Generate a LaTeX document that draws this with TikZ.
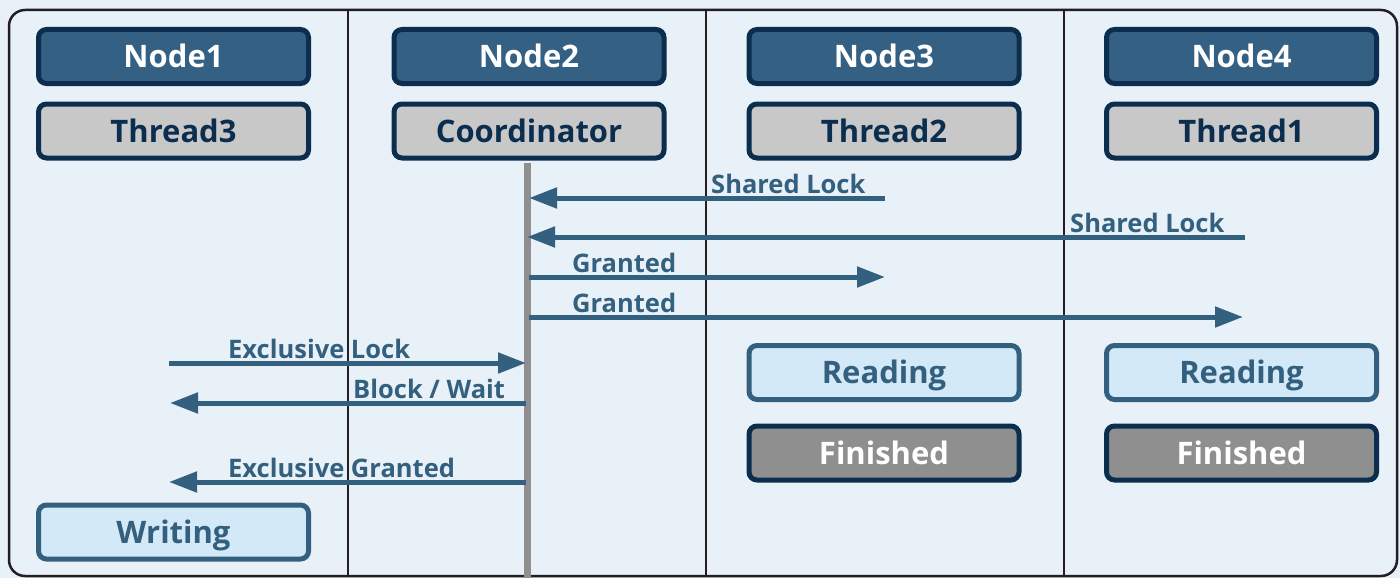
\documentclass[tikz,border=0pt]{standalone}
\usepackage{fontspec}
\setmainfont{Open Sans}
\usetikzlibrary{arrows.meta}
\definecolor{bg}{HTML}{E8F0F8}
\definecolor{navy}{HTML}{0B2E4F}
\definecolor{hdr}{HTML}{346083}
\definecolor{thr}{HTML}{C8C8C8}
\definecolor{lightb}{HTML}{D4E9F7}
\definecolor{arr}{HTML}{34607F}
\definecolor{gry}{HTML}{8F8F8F}
\definecolor{framec}{HTML}{231F20}
\tikzset{
  box/.style={rounded corners=8pt, line width=5pt, minimum width=270pt, minimum height=54pt, inner sep=0pt, text height=22pt, text depth=0pt, font=\fontsize{31}{38}\selectfont\bfseries},
  hdrbox/.style={box, draw=navy, fill=hdr, text=white},
  thrbox/.style={box, draw=navy, fill=thr, text=navy},
  statebox/.style={box, draw=arr, fill=lightb, text=arr},
  finbox/.style={box, draw=navy, fill=gry, text=white},
  msg/.style={draw=arr, line width=5pt, -{Triangle[length=28pt,width=20pt]}},
  msglabel/.style={anchor=base west, inner sep=0pt, text=arr, font=\fontsize{25.5}{30}\selectfont\bfseries},
  divider/.style={draw=framec, line width=2pt}
}
\begin{document}
\begin{tikzpicture}[x=1pt,y=-1pt]
\fill[bg] (0,0) rectangle (1400,578);
\useasboundingbox (0,0) rectangle (1400,578);
\draw[framec, line width=2.5pt, rounded corners=16pt] (9,10) rectangle (1397,576);
\foreach \x in {348,706,1064} \draw[divider] (\x,10) -- (\x,576);

\node[hdrbox] (n1) at (173.5,56.5) {Node1};
\node[hdrbox] (n2) at (529,56.5) {Node2};
\node[hdrbox] (n3) at (884,56.5) {Node3};
\node[hdrbox] (n4) at (1241.5,56.5) {Node4};
\node[thrbox] (t3) at (173.5,131) {Thread3};
\node[thrbox] (co) at (529,131) {Coordinator};
\node[thrbox] (t2) at (884,131) {Thread2};
\node[thrbox] (t1) at (1241.5,131) {Thread1};

\coordinate (lifetop) at (527,163);
\coordinate (lifeend) at (527,578);
\draw[gry, line width=7pt] (lifetop) -- (lifeend);

\node[statebox] (r3) at (884,372.5) {Reading};
\node[statebox] (r4) at (1241.5,372.5) {Reading};
\node[finbox] (f3) at (884,453) {Finished};
\node[finbox] (f4) at (1241.5,453) {Finished};
\node[statebox] (w1) at (173.5,532) {Writing};

% message coordinates
\coordinate (a1s) at (885,198);  \coordinate (a1e) at (529,198);
\coordinate (a2s) at (1245,237); \coordinate (a2e) at (527,237);
\coordinate (a3s) at (529,277);  \coordinate (a3e) at (885,277);
\coordinate (a4s) at (529,317);  \coordinate (a4e) at (1243,317);
\coordinate (a5s) at (169,363);  \coordinate (a5e) at (526,363);
\coordinate (a6s) at (526,403);  \coordinate (a6e) at (170,403);
\coordinate (a7s) at (526,482);  \coordinate (a7e) at (169,482);

\draw[msg] (a1s) -- (a1e);
\draw[msg] (a2s) -- (a2e);
\draw[msg] (a3s) -- (a3e);
\draw[msg] (a4s) -- (a4e);
\draw[msg] (a5s) -- (a5e);
\draw[msg] (a6s) -- (a6e);
\draw[msg] (a7s) -- (a7e);

\node[msglabel] (l1) at (711,193) {Shared Lock};
\node[msglabel] (l2) at (1070,232) {Shared Lock};
\node[msglabel] (l3) at (572,272) {Granted};
\node[msglabel] (l4) at (572,312) {Granted};
\node[msglabel] (l5) at (228,358) {Exclusive Lock};
\node[msglabel] (l6) at (353,398) {Block / Wait};
\node[msglabel] (l7) at (228,477) {Exclusive Granted};
\end{tikzpicture}
\end{document}
